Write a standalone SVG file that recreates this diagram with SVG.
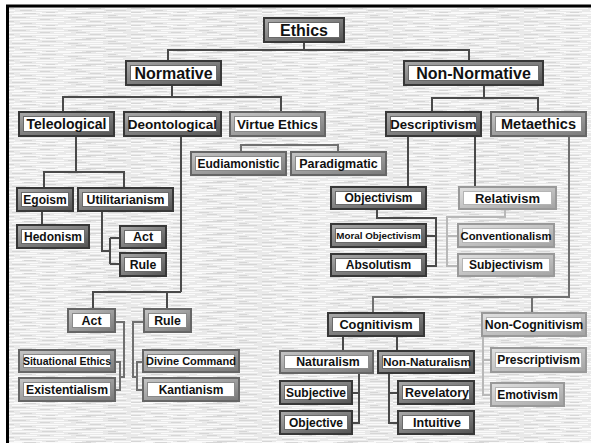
<svg xmlns="http://www.w3.org/2000/svg" width="591" height="443" viewBox="0 0 591 443">
<defs>
<pattern id="tex" width="131" height="13" patternUnits="userSpaceOnUse">
<rect width="131" height="13" fill="#e9e9e9"/>
<path d="M0 0.5h22M40 0.5h31M96 0.5h18M12 2.5h26M63 2.5h40M118 2.5h13M0 4.5h9M30 4.5h34M82 4.5h21M7 6.5h30M54 6.5h17M90 6.5h33M20 8.5h44M76 8.5h12M105 8.5h22M0 10.5h15M36 10.5h22M66 10.5h38M112 12.5h19M14 12.5h28M58 12.5h24" stroke="#fafafa" stroke-width="1"/>
<path d="M24 0.5h12M75 0.5h16M42 2.5h14M108 2.5h8M12 4.5h14M68 4.5h10M108 4.5h18M40 6.5h10M76 6.5h10M0 8.5h14M90 8.5h11M20 10.5h12M106 10.5h20M0 12.5h10M46 12.5h9M86 12.5h20" stroke="#d6d6d6" stroke-width="1"/>
</pattern>
<linearGradient id="gdk" x1="0" y1="0" x2="1" y2="1"><stop offset="0" stop-color="#a8a8a8"/><stop offset="1" stop-color="#555"/></linearGradient>
<linearGradient id="gmd" x1="0" y1="0" x2="1" y2="1"><stop offset="0" stop-color="#c4c4c4"/><stop offset="1" stop-color="#7a7a7a"/></linearGradient>
<linearGradient id="glt" x1="0" y1="0" x2="1" y2="1"><stop offset="0" stop-color="#e0e0e0"/><stop offset="1" stop-color="#a4a4a4"/></linearGradient>
</defs>
<style>
.tx{font-family:"Liberation Sans",Arial,sans-serif;font-weight:bold;text-anchor:middle;fill:#111}
.L{font-size:16px}.M{font-size:14px}.S{font-size:12.3px}.XS{font-size:10.5px}
.dk .o{fill:#383838}.dk .m{fill:url(#gdk)}.dk .i{fill:#fff;stroke:#6a6a6a;stroke-width:1}
.md .o{fill:#666}.md .m{fill:url(#gmd)}.md .i{fill:#fff;stroke:#8a8a8a;stroke-width:1}
.lt .o{fill:#999}.lt .m{fill:url(#glt)}.lt .i{fill:#fff;stroke:#b4b4b4;stroke-width:1}
#connectors path{fill:none;stroke-width:2}
.c1{stroke:#4a4a4a}.c2{stroke:#707070}.c3{stroke:#b8b8b8}
</style>
<rect width="591" height="443" fill="#fff"/>
<rect x="6" y="5" width="585" height="438" fill="url(#tex)"/>
<path d="M6 6H591M7.5 4.5V443" stroke="#000" stroke-width="3" fill="none"/>

<g id="connectors">
<path class="c1" d="M304 43V50M168 60V50H469V60"/>
<path class="c1" d="M172 86V97M63 111V97H281V111"/>
<path class="c1" d="M484 86V98M432 111V98H538V111"/>
<path class="c2" d="M241 151V145H338V151"/>
<path class="c1" d="M76 137V172M44 187V172H124V187"/>
<path class="c1" d="M42 212V224"/>
<path class="c1" d="M102 212V251H110M110 238V264M110 238H119M110 264H119"/>
<path class="c1" d="M181 137V292M93 308V292H181M167 308V292"/>
<path class="c2" d="M116 322H124V377H120M116 362H120V390H116"/>
<path class="c2" d="M143 322H133V377H137M142 362H137V390H142"/>
<path class="c1" d="M408 137V186M475 137V186"/>
<path class="c1" d="M377 210V218H436V266H427M427 236H436"/>
<path class="c3" d="M505 210V217H447V266H457M447 236H457"/>
<path class="c2" d="M569 137V297H373V312M532 297V312"/>
<path class="c1" d="M343 337V350M397 337V350"/>
<path class="c1" d="M359 374V423H353M353 393H359"/>
<path class="c1" d="M389 374V423H397M389 393H397"/>
<path class="c3" d="M483 337V395H490M483 360H490"/>
</g>

<g id="ethics" class="dk"><rect class="o" x="263" y="17" width="82" height="26"/><rect class="m" x="265" y="19" width="78" height="22"/><rect class="i" x="268.5" y="22.5" width="71" height="15"/><text class="tx L" x="304" y="35.8">Ethics</text></g>
<g id="normative" class="dk"><rect class="o" x="125" y="60" width="97" height="26"/><rect class="m" x="127" y="62" width="93" height="22"/><rect class="i" x="130.5" y="65.5" width="86" height="15"/><text class="tx L" x="173.5" y="78.8">Normative</text></g>
<g id="non-normative" class="dk"><rect class="o" x="403" y="60" width="141" height="26"/><rect class="m" x="405" y="62" width="137" height="22"/><rect class="i" x="408.5" y="65.5" width="130" height="15"/><text class="tx L" x="473.5" y="78.8">Non-Normative</text></g>
<g id="teleological" class="dk"><rect class="o" x="18" y="111" width="97" height="26"/><rect class="m" x="20" y="113" width="93" height="22"/><rect class="i" x="23.5" y="116.5" width="86" height="15"/><text class="tx M" x="66.5" y="129">Teleological</text></g>
<g id="deontological" class="dk"><rect class="o" x="123" y="111" width="99" height="26"/><rect class="m" x="125" y="113" width="95" height="22"/><rect class="i" x="128.5" y="116.5" width="88" height="15"/><text class="tx M" x="172.5" y="129" style="font-size:13.5px">Deontological</text></g>
<g id="virtue-ethics" class="md"><rect class="o" x="229" y="111" width="97" height="26"/><rect class="m" x="231" y="113" width="93" height="22"/><rect class="i" x="234.5" y="116.5" width="86" height="15"/><text class="tx M" x="277.5" y="129" style="font-size:13.3px">Virtue Ethics</text></g>
<g id="descriptivism" class="dk"><rect class="o" x="385" y="111" width="97" height="26"/><rect class="m" x="387" y="113" width="93" height="22"/><rect class="i" x="390.5" y="116.5" width="86" height="15"/><text class="tx M" x="433.5" y="129" style="font-size:13.2px">Descriptivism</text></g>
<g id="metaethics" class="md"><rect class="o" x="490" y="111" width="97" height="26"/><rect class="m" x="492" y="113" width="93" height="22"/><rect class="i" x="495.5" y="116.5" width="86" height="15"/><text class="tx M" x="538.5" y="129" style="font-size:14.5px">Metaethics</text></g>

<g id="eudiamonistic" class="md"><rect class="o" x="190" y="151" width="97" height="25"/><rect class="m" x="192" y="153" width="93" height="21"/><rect class="i" x="195.5" y="156.5" width="86" height="14"/><text class="tx S" x="238.5" y="167.8" style="font-size:12px">Eudiamonistic</text></g>
<g id="paradigmatic" class="md"><rect class="o" x="290" y="151" width="97" height="25"/><rect class="m" x="292" y="153" width="93" height="21"/><rect class="i" x="295.5" y="156.5" width="86" height="14"/><text class="tx S" x="338.5" y="167.8" style="font-size:12.5px">Paradigmatic</text></g>

<g id="egoism" class="dk"><rect class="o" x="16" y="187" width="58" height="25"/><rect class="m" x="18" y="189" width="54" height="21"/><rect class="i" x="21.5" y="192.5" width="47" height="14"/><text class="tx S" x="45" y="203.8" style="font-size:12px">Egoism</text></g>
<g id="utilitarianism" class="dk"><rect class="o" x="77" y="187" width="97" height="25"/><rect class="m" x="79" y="189" width="93" height="21"/><rect class="i" x="82.5" y="192.5" width="86" height="14"/><text class="tx S" x="125.5" y="203.8">Utilitarianism</text></g>
<g id="hedonism" class="dk"><rect class="o" x="16" y="224" width="74" height="25"/><rect class="m" x="18" y="226" width="70" height="21"/><rect class="i" x="21.5" y="229.5" width="63" height="14"/><text class="tx S" x="53" y="240.8" style="font-size:12px">Hedonism</text></g>
<g id="act-util" class="dk"><rect class="o" x="119" y="225" width="48" height="24"/><rect class="m" x="121" y="227" width="44" height="20"/><rect class="i" x="124.5" y="230.5" width="37" height="13"/><text class="tx S" x="143" y="241.3" style="font-size:12.5px">Act</text></g>
<g id="rule-util" class="dk"><rect class="o" x="119" y="252" width="48" height="25"/><rect class="m" x="121" y="254" width="44" height="21"/><rect class="i" x="124.5" y="257.5" width="37" height="14"/><text class="tx S" x="143" y="268.8">Rule</text></g>

<g id="objectivism" class="dk"><rect class="o" x="330" y="186" width="97" height="24"/><rect class="m" x="332" y="188" width="93" height="20"/><rect class="i" x="335.5" y="191.5" width="86" height="13"/><text class="tx S" x="378.5" y="202.3" style="font-size:12px">Objectivism</text></g>
<g id="relativism" class="lt"><rect class="o" x="458" y="186" width="99" height="24"/><rect class="m" x="460" y="188" width="95" height="20"/><rect class="i" x="463.5" y="191.5" width="88" height="13"/><text class="tx S" x="507.5" y="202.6" style="font-size:13px">Relativism</text></g>
<g id="moral-objectivism" class="dk"><rect class="o" x="330" y="223" width="97" height="25"/><rect class="m" x="332" y="225" width="93" height="21"/><rect class="i" x="335.5" y="228.5" width="86" height="14"/><text class="tx XS" x="378.5" y="239.1" style="font-size:9.8px">Moral Objectivism</text></g>
<g id="absolutism" class="dk"><rect class="o" x="330" y="253" width="97" height="24"/><rect class="m" x="332" y="255" width="93" height="20"/><rect class="i" x="335.5" y="258.5" width="86" height="13"/><text class="tx S" x="378.5" y="269.3" style="font-size:12px">Absolutism</text></g>
<g id="conventionalism" class="lt"><rect class="o" x="457" y="223" width="98" height="25"/><rect class="m" x="459" y="225" width="94" height="21"/><rect class="i" x="462.5" y="228.5" width="87" height="14"/><text class="tx S" x="506" y="239.6" style="font-size:11.3px">Conventionalism</text></g>
<g id="subjectivism" class="lt"><rect class="o" x="457" y="253" width="98" height="24"/><rect class="m" x="459" y="255" width="94" height="20"/><rect class="i" x="462.5" y="258.5" width="87" height="13"/><text class="tx S" x="506" y="269.3" style="font-size:12px">Subjectivism</text></g>

<g id="act-deont" class="md"><rect class="o" x="67" y="308" width="49" height="25"/><rect class="m" x="69" y="310" width="45" height="21"/><rect class="i" x="72.5" y="313.5" width="38" height="14"/><text class="tx S" x="91.5" y="324.8" style="font-size:12.5px">Act</text></g>
<g id="rule-deont" class="md"><rect class="o" x="143" y="308" width="49" height="25"/><rect class="m" x="145" y="310" width="45" height="21"/><rect class="i" x="148.5" y="313.5" width="38" height="14"/><text class="tx S" x="167.5" y="324.8">Rule</text></g>
<g id="situational-ethics" class="md"><rect class="o" x="18" y="349" width="98" height="24"/><rect class="m" x="20" y="351" width="94" height="20"/><rect class="i" x="23.5" y="354.5" width="87" height="13"/><text class="tx XS" x="67" y="364.8">Situational Ethics</text></g>
<g id="existentialism" class="md"><rect class="o" x="18" y="377" width="98" height="25"/><rect class="m" x="20" y="379" width="94" height="21"/><rect class="i" x="23.5" y="382.5" width="87" height="14"/><text class="tx S" x="67" y="393.8" style="font-size:12.2px">Existentialism</text></g>
<g id="divine-command" class="md"><rect class="o" x="142" y="349" width="98" height="24"/><rect class="m" x="144" y="351" width="94" height="20"/><rect class="i" x="147.5" y="354.5" width="87" height="13"/><text class="tx XS" x="191" y="365" style="font-size:11px">Divine Command</text></g>
<g id="kantianism" class="md"><rect class="o" x="142" y="377" width="98" height="25"/><rect class="m" x="144" y="379" width="94" height="21"/><rect class="i" x="147.5" y="382.5" width="87" height="14"/><text class="tx S" x="191" y="393.8" style="font-size:12px">Kantianism</text></g>

<g id="cognitivism" class="dk"><rect class="o" x="327" y="312" width="98" height="25"/><rect class="m" x="329" y="314" width="94" height="21"/><rect class="i" x="332.5" y="317.5" width="87" height="14"/><text class="tx S" x="376" y="328.8" style="font-size:12.8px">Cognitivism</text></g>
<g id="non-cognitivism" class="lt"><rect class="o" x="481" y="312" width="106" height="25"/><rect class="m" x="483" y="314" width="102" height="21"/><rect class="i" x="486.5" y="317.5" width="95" height="14"/><text class="tx S" x="534" y="328.8">Non-Cognitivism</text></g>
<g id="naturalism" class="md"><rect class="o" x="279" y="350" width="95" height="24"/><rect class="m" x="281" y="352" width="91" height="20"/><rect class="i" x="284.5" y="355.5" width="84" height="13"/><text class="tx S" x="328" y="366.3">Naturalism</text></g>
<g id="non-naturalism" class="dk"><rect class="o" x="377" y="350" width="98" height="24"/><rect class="m" x="379" y="352" width="94" height="20"/><rect class="i" x="382.5" y="355.5" width="87" height="13"/><text class="tx S" x="427" y="366.2" style="font-size:11.8px">Non-Naturalism</text></g>
<g id="subjective" class="dk"><rect class="o" x="279" y="380" width="74" height="25"/><rect class="m" x="281" y="382" width="70" height="21"/><rect class="i" x="284.5" y="385.5" width="63" height="14"/><text class="tx S" x="316" y="396.8" style="font-size:12px">Subjective</text></g>
<g id="objective" class="dk"><rect class="o" x="279" y="410" width="74" height="25"/><rect class="m" x="281" y="412" width="70" height="21"/><rect class="i" x="284.5" y="415.5" width="63" height="14"/><text class="tx S" x="316" y="426.8" style="font-size:12px">Objective</text></g>
<g id="revelatory" class="dk"><rect class="o" x="397" y="380" width="78" height="25"/><rect class="m" x="399" y="382" width="74" height="21"/><rect class="i" x="402.5" y="385.5" width="67" height="14"/><text class="tx S" x="437" y="396.8" style="font-size:12.5px">Revelatory</text></g>
<g id="intuitive" class="dk"><rect class="o" x="397" y="410" width="78" height="25"/><rect class="m" x="399" y="412" width="74" height="21"/><rect class="i" x="402.5" y="415.5" width="67" height="14"/><text class="tx S" x="437" y="426.8" style="font-size:12.5px">Intuitive</text></g>
<g id="prescriptivism" class="lt"><rect class="o" x="490" y="347" width="97" height="26"/><rect class="m" x="492" y="349" width="93" height="22"/><rect class="i" x="495.5" y="352.5" width="86" height="15"/><text class="tx S" x="538.5" y="364.3" style="font-size:12px">Prescriptivism</text></g>
<g id="emotivism" class="lt"><rect class="o" x="490" y="382" width="75" height="25"/><rect class="m" x="492" y="384" width="71" height="21"/><rect class="i" x="495.5" y="387.5" width="64" height="14"/><text class="tx S" x="527.5" y="398.8" style="font-size:12px">Emotivism</text></g>
</svg>
